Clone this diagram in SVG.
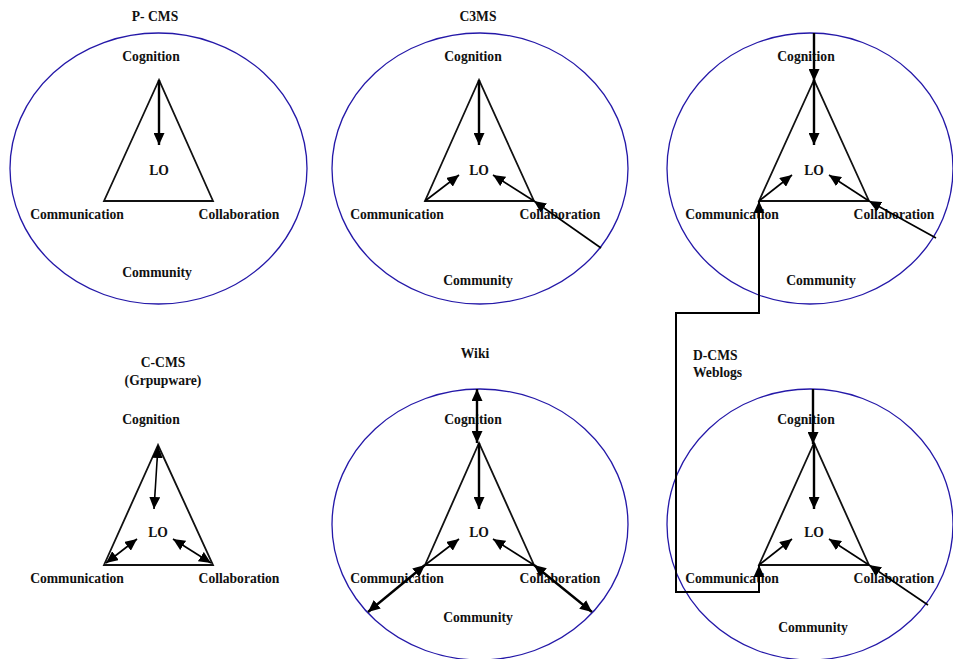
<svg xmlns="http://www.w3.org/2000/svg" width="953" height="659" viewBox="0 0 953 659">
<style>
text{font-family:"Liberation Serif","Times New Roman",serif;font-weight:bold;font-size:13.6px;fill:#111;text-anchor:middle}
.st{text-anchor:start}
.ell{fill:none;stroke:#2418a8;stroke-width:1.3}
.tri{fill:none;stroke:#111;stroke-width:1.8;stroke-linejoin:miter}
.a{fill:none;stroke:#000;stroke-width:1.6}
.ab{fill:none;stroke:#000;stroke-width:2.4}
.ah{marker-end:url(#ah)}
.ad{marker-start:url(#ah);marker-end:url(#ah)}
</style>
<defs>
<marker id="ah" markerUnits="userSpaceOnUse" markerWidth="12" markerHeight="11" refX="12" refY="5.5" orient="auto-start-reverse" viewBox="0 0 12 11">
<path d="M0,0 L12,5.5 L0,11 z" fill="#000"/>
</marker>
</defs>
<rect width="953" height="659" fill="#fff"/>

<g id="pcms">
<text x="155" y="21">P- CMS</text>
<ellipse class="ell" cx="158.5" cy="168.5" rx="148.5" ry="135.5"/>
<polygon class="tri" points="159,80 104,201 213,201"/>
<text x="151" y="61">Cognition</text>
<text x="159" y="175">LO</text>
<text x="77" y="219">Communication</text>
<text x="239" y="219">Collaboration</text>
<text x="157" y="277">Community</text>
</g>

<g id="c3ms">
<text x="478" y="21">C3MS</text>
<ellipse class="ell" cx="480" cy="168.5" rx="148" ry="135.5"/>
<polygon class="tri" points="479,80 425,201 534,201"/>
<text x="473" y="61">Cognition</text>
<text x="479" y="175">LO</text>
<text x="397" y="219">Communication</text>
<text x="560" y="219">Collaboration</text>
<text x="478" y="285">Community</text>
</g>

<g id="topright">
<ellipse class="ell" cx="810" cy="168.5" rx="143" ry="135.5"/>
<polygon class="tri" points="814,80 759,201 869,201"/>
<text x="806" y="61">Cognition</text>
<text x="814" y="175">LO</text>
<text x="732" y="219">Communication</text>
<text x="894" y="219">Collaboration</text>
<text x="821" y="285">Community</text>
</g>

<g id="ccms">
<text x="163" y="367">C-CMS</text>
<text x="163" y="385">(Grpupware)</text>
<polygon class="tri" points="158,445 104,565 213,565"/>
<text x="151" y="424">Cognition</text>
<text x="158" y="537">LO</text>
<text x="77" y="583">Communication</text>
<text x="239" y="583">Collaboration</text>
</g>

<g id="wiki">
<text x="475" y="358">Wiki</text>
<ellipse class="ell" cx="480" cy="524.5" rx="148" ry="135.5"/>
<polygon class="tri" points="479,443 425,565 534,565"/>
<text x="473" y="424">Cognition</text>
<text x="479" y="537">LO</text>
<text x="397" y="583">Communication</text>
<text x="560" y="583">Collaboration</text>
<text x="478" y="622">Community</text>
</g>

<g id="dcms">
<text class="st" x="693" y="360">D-CMS</text>
<text class="st" x="693" y="377">Weblogs</text>
<ellipse class="ell" cx="810" cy="524.5" rx="143" ry="135.5"/>
<polygon class="tri" points="814,443 759,565 869,565"/>
<text x="806" y="424">Cognition</text>
<text x="814" y="537">LO</text>
<text x="732" y="583">Communication</text>
<text x="894" y="583">Collaboration</text>
<text x="813" y="632">Community</text>
</g>

<g id="connectors">
<line class="ab ah" x1="159" y1="80" x2="159" y2="145"/>
<line class="ab ah" x1="479" y1="80" x2="479" y2="145"/>
<line class="a ah" x1="425" y1="201" x2="459" y2="175"/>
<line class="a ah" x1="534" y1="201" x2="493" y2="175"/>
<line class="a ah" x1="601" y1="248" x2="534" y2="201"/>
<line class="ab ah" x1="814" y1="33" x2="814" y2="81"/>
<line class="ab ah" x1="814" y1="80" x2="814" y2="145"/>
<line class="a ah" x1="759" y1="201" x2="792" y2="175"/>
<line class="a ah" x1="869" y1="201" x2="829" y2="175"/>
<line class="a ah" x1="936" y1="238" x2="869" y2="201"/>
<path class="ab ad" style="stroke-width:2" d="M759,201 L759,313 L676,313 L676,592 L759,592 L759,565"/>
<line class="a ad" x1="158" y1="446" x2="154" y2="509"/>
<line class="a ad" x1="106" y1="563" x2="137" y2="539"/>
<line class="a ad" x1="211" y1="563" x2="173" y2="539"/>
<line class="ab ad" x1="477" y1="389" x2="477" y2="443"/>
<line class="ab ah" x1="479" y1="443" x2="479" y2="509"/>
<line class="a ah" x1="425" y1="565" x2="459" y2="539"/>
<line class="a ah" x1="534" y1="565" x2="493" y2="539"/>
<line class="ab ad" x1="425" y1="565" x2="368" y2="612"/>
<line class="ab ad" x1="534" y1="565" x2="592" y2="612"/>
<line class="ab ah" x1="813" y1="389" x2="813" y2="444"/>
<line class="ab ah" x1="814" y1="443" x2="814" y2="509"/>
<line class="a ah" x1="759" y1="565" x2="792" y2="539"/>
<line class="a ah" x1="869" y1="565" x2="829" y2="539"/>
<line class="a ah" x1="928" y1="605" x2="869" y2="565"/>
</g>
</svg>
